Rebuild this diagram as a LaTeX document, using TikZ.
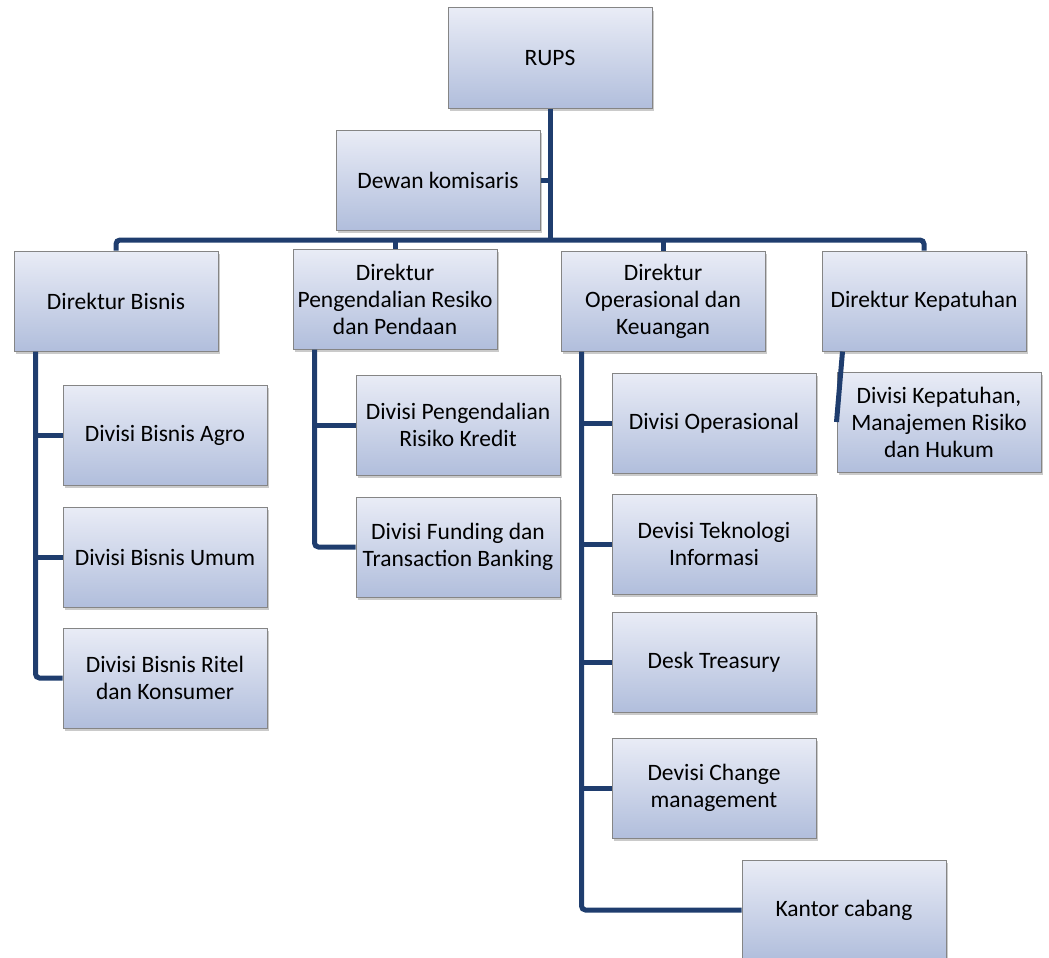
\documentclass[tikz,border=0pt]{standalone}
\usepackage{fontspec}
\setmainfont{Carlito}
\usetikzlibrary{calc,shadows}
\definecolor{navy}{HTML}{1F3D6E}
\definecolor{boxtop}{HTML}{E9ECF6}
\definecolor{boxbot}{HTML}{B1BEDC}
\definecolor{boxrim}{HTML}{858585}
\begin{document}
\begin{tikzpicture}[x=1pt,y=-1pt,
  unit/.style={draw=boxrim,line width=1pt,top color=boxtop,bottom color=boxbot,
    minimum width=204pt,minimum height=100pt,inner sep=2pt,align=center,
    font=\fontsize{23.5}{27}\selectfont,
    drop shadow={shadow xshift=2pt,shadow yshift=-3pt,opacity=0.35,fill=black!60}}]
\ifx\linkw\undefined\newdimen\linkw\fi
\def\linkdraw{\draw[line width=\linkw,navy,rounded corners=4pt]}
\linkw=5pt
\useasboundingbox (0,0) rectangle (1049,958);
% top
\node[unit] (rups) at (550,58) {RUPS};
\node[unit] (dewan) at (438,180) {Dewan komisaris};
% direktur
\node[unit] (dbis) at (116,301) {Direktur Bisnis};
\node[unit] (dpr) at (395,299) {Direktur\\Pengendalian Resiko\\dan Pendaan};
\node[unit] (dop) at (663,301) {Direktur\\Operasional dan\\Keuangan};
\node[unit] (dkep) at (924,301) {Direktur Kepatuhan};
% divisi
\node[unit] (agro) at (165,435) {Divisi Bisnis Agro};
\node[unit] (umum) at (165,557) {Divisi Bisnis Umum};
\node[unit] (ritel) at (165,678) {Divisi Bisnis Ritel\\dan Konsumer};
\node[unit] (kredit) at (458,425) {Divisi Pengendalian\\Risiko Kredit};
\node[unit] (funding) at (458,547) {Divisi Funding dan\\Transaction Banking};
\node[unit] (ops) at (714,423) {Divisi Operasional};
\node[unit] (ti) at (714,544) {Devisi Teknologi\\Informasi};
\node[unit] (treasury) at (714,662) {Desk Treasury};
\node[unit] (change) at (714,788) {Devisi Change\\management};
\node[unit] (cabang) at (844,910) {Kantor cabang};
\node[unit] (kepdiv) at (939,422) {Divisi Kepatuhan,\\Manajemen Risiko\\dan Hukum};
% lines
\coordinate (bus) at (550,240);
\linkdraw (rups.south) -- (rups.south |- bus);
\linkdraw (dewan.east) -- (dewan.east -| rups.south);
\linkdraw (dbis.north) -- (dbis.north |- bus) -- (dkep.north |- bus) -- (dkep.north);
\foreach \d in {dpr,dop} {\linkdraw (\d.north) -- (\d.north |- bus);}
\coordinate (bisv) at ($(dbis.south west)+(22,0)$);
\coordinate (prv) at ($(dpr.south west)+(22,0)$);
\coordinate (opv) at ($(dop.south west)+(21,0)$);
\coordinate (kepv) at ($(dkep.south west)+(21,0)$);
\linkdraw (bisv) |- (ritel.west);
\foreach \c in {agro,umum} {\linkdraw (bisv |- \c.west) -- (\c.west);}
\linkdraw (prv) |- (funding.west);
\linkdraw (prv |- kredit.west) -- (kredit.west);
\linkdraw (opv) |- (cabang.west);
\foreach \c in {ops,ti,treasury,change} {\linkdraw (opv |- \c.west) -- (\c.west);}
\linkdraw (kepv) -- (kepdiv.west);
\end{tikzpicture}
\end{document}
